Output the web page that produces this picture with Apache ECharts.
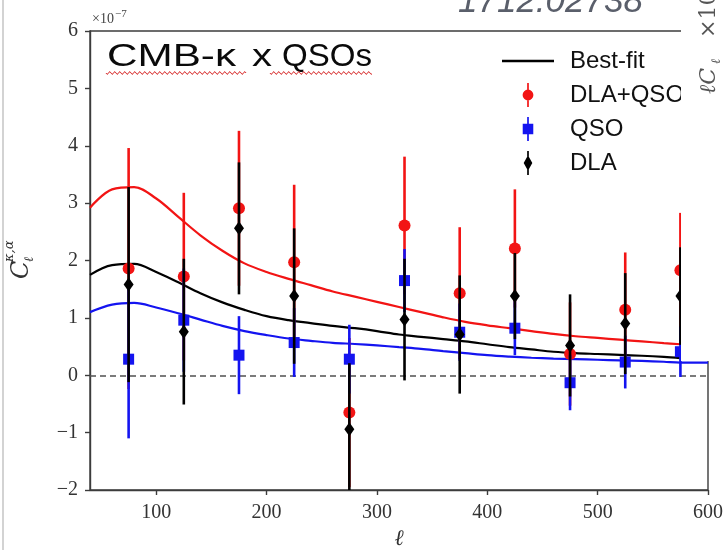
<!DOCTYPE html>
<html>
<head>
<meta charset="utf-8">
<title>CMB-kappa x QSOs</title>
<script src="https://cdn.jsdelivr.net/npm/echarts@6/dist/echarts.min.js"></script>
<style>
  html, body { margin: 0; padding: 0; background: #fff; }
  #chart { width: 726px; height: 550px; }
</style>
</head>
<body>
<div id="chart"></div>
<script>
// band centres
var ell = [75, 125, 175, 225, 275, 325, 375, 425, 475, 525, 575];
// measured C_l (x 1e-7) and 1-sigma errors
var dlaQso    = [1.86, 1.72, 2.91, 1.97, -0.65, 2.61, 1.43, 2.21, 0.37, 1.14, 1.83];
var dlaQsoErr = [2.10, 1.46, 1.35, 1.35, 1.30, 1.20, 1.15, 1.03, 0.90, 1.00, 1.00];
var qso       = [0.28, 0.96, 0.35, 0.57, 0.28, 1.65, 0.75, 0.82, -0.13, 0.23, 0.41];
var qsoErr    = [1.38, 0.90, 0.68, 0.60, 0.60, 0.55, 0.50, 0.47, 0.48, 0.46, 0.44];
var dla       = [1.58, 0.76, 2.56, 1.38, -0.94, 0.97, 0.71, 1.38, 0.52, 0.90, 1.38];
var dlaErr    = [1.70, 1.27, 1.15, 1.18, 1.15, 1.06, 1.03, 0.75, 0.89, 0.88, 0.85];

// best-fit curves
var ellFit    = [40, 60, 80, 100, 120, 140, 160, 180, 200, 220, 240, 260, 280, 300, 320, 340, 360, 380, 400, 420, 440, 460, 480, 500, 520, 540, 560, 575, 600];
var fitDlaQso = [2.92, 3.24, 3.28, 3.08, 2.76, 2.44, 2.17, 1.95, 1.80, 1.68, 1.57, 1.46, 1.37, 1.28, 1.19, 1.10, 1.01, 0.93, 0.87, 0.82, 0.77, 0.72, 0.68, 0.65, 0.62, 0.59, 0.56, 0.54, null];
var fitDla    = [1.75, 1.92, 1.94, 1.80, 1.62, 1.43, 1.27, 1.14, 1.03, 0.96, 0.91, 0.86, 0.82, 0.77, 0.71, 0.67, 0.63, 0.59, 0.54, 0.49, 0.45, 0.41, 0.385, 0.37, 0.355, 0.34, 0.32, 0.30, null];
var fitQso    = [1.10, 1.23, 1.26, 1.18, 1.08, 0.97, 0.86, 0.77, 0.70, 0.64, 0.60, 0.565, 0.545, 0.52, 0.49, 0.46, 0.42, 0.385, 0.35, 0.325, 0.305, 0.29, 0.28, 0.27, 0.26, 0.25, 0.235, 0.22, 0.22];

var xTicks = [100, 200, 300, 400, 500, 600];

var RED = '#f21414', BLUE = '#1414f0', BLACK = '#000';
var AXIS = '#3c3c3c';

var chart = echarts.init(document.getElementById('chart'));

function curve(name, vals, color) {
  return {
    name: name, type: 'line', z: 2, smooth: 0.35, showSymbol: false, silent: true,
    lineStyle: { color: color, width: 2.2 },
    itemStyle: { color: color },
    data: ellFit.map(function (l, i) { return [l, vals[i]]; })
  };
}

function errorBars(name, vals, errs, color, z) {
  return {
    name: name, type: 'custom', z: z, silent: true,
    data: ell.map(function (l, i) { return [l, vals[i] - errs[i], vals[i] + errs[i]]; }),
    encode: { x: 0, y: [1, 2] },
    renderItem: function (params, api) {
      var cs = params.coordSys;
      var lo = api.coord([api.value(0), api.value(1)]);
      var hi = api.coord([api.value(0), api.value(2)]);
      var yb = Math.min(lo[1], cs.y + cs.height);
      var yt = Math.max(hi[1], cs.y);
      return {
        type: 'line',
        shape: { x1: lo[0], y1: yb, x2: hi[0], y2: yt },
        style: { stroke: color, lineWidth: 2.6 }
      };
    }
  };
}

function points(name, vals, symbol, size, color, z) {
  return {
    name: name, type: 'scatter', z: z, symbol: symbol, symbolSize: size,
    itemStyle: { color: color, opacity: 1 },
    data: ell.map(function (l, i) { return [l, vals[i]]; })
  };
}

// measure text to stretch title pieces to the widths seen in the picture
var ctx = document.createElement('canvas').getContext('2d');
function fitText(text, x0, x1, y, size) {
  var font = size + 'px "Liberation Sans"';
  ctx.font = font;
  var w = ctx.measureText(text).width;
  return {
    type: 'text', x: x0, y: y, scaleX: (x1 - x0) / w, z: 50,
    style: { text: text, font: font, fill: '#0a0a0a', verticalAlign: 'middle' }
  };
}

function squiggle(x0, x1, y) {
  var pts = [];
  for (var x = x0; x <= x1; x += 1) pts.push([x, y + 1.4 * Math.sin((x - x0) / 5 * 2 * Math.PI)]);
  return { type: 'polyline', z: 50, shape: { points: pts }, style: { stroke: '#d93030', lineWidth: 1, fill: null } };
}

var icoCircle = 'path://M4.3,0H5.7V20H4.3Z M0.5,10A4.5,4.5 0 1,1 9.5,10A4.5,4.5 0 1,1 0.5,10Z';
var icoSquare = 'path://M4.3,0H5.7V20H4.3Z M0.6,5.6H9.4V14.4H0.6Z';
var icoDiamond = 'path://M4.3,0H5.7V20H4.3Z M5,3.5L8.6,10L5,16.5L1.4,10Z';

var option = {
  backgroundColor: '#fff',
  animation: false,
  grid: {
    left: 90, right: 18, top: 31, bottom: 60, outerBoundsMode: 'none',
    show: true, borderColor: AXIS, borderWidth: 1.4
  },
  legend: {
    orient: 'vertical', left: 502, top: 49, padding: 0, itemGap: 10,
    itemWidth: 52, itemHeight: 24, selectedMode: false,
    textStyle: { fontFamily: 'Liberation Sans', fontSize: 24, color: '#111', padding: [0, 0, 0, 11] },
    data: [
      { name: 'Best-fit', icon: 'path://M0,0H50V2.6H0Z', itemStyle: { color: BLACK } },
      { name: 'DLA+QSO', icon: icoCircle, itemStyle: { color: RED } },
      { name: 'QSO', icon: icoSquare, itemStyle: { color: BLUE } },
      { name: 'DLA', icon: icoDiamond, itemStyle: { color: BLACK } }
    ]
  },
  xAxis: {
    type: 'value', min: 40, max: 600,
    name: 'ℓ', nameLocation: 'middle', nameGap: 37,
    nameTextStyle: { fontFamily: 'DejaVu Serif', fontStyle: 'italic', fontSize: 22, color: '#333' },
    axisLine: { show: true, onZero: false, lineStyle: { color: AXIS, width: 1.4 } },
    axisTick: { show: true, customValues: xTicks, length: 5, lineStyle: { color: AXIS, width: 1.4 } },
    axisLabel: { customValues: xTicks, fontFamily: 'Liberation Serif', fontSize: 20, color: '#333', margin: 13 },
    splitLine: { show: false }
  },
  yAxis: {
    type: 'value', min: -2, max: 6, interval: 1,
    axisLine: { show: true, onZero: false, lineStyle: { color: AXIS, width: 1.4 } },
    axisTick: { show: true, length: 5, lineStyle: { color: AXIS, width: 1.4 } },
    axisLabel: {
      fontFamily: 'Liberation Serif', fontSize: 20, color: '#333', margin: 12,
      formatter: function (v) { return String(v).replace('-', '\u2212'); }
    },
    splitLine: { show: false }
  },
  series: [
    Object.assign(curve('fitDlaQso', fitDlaQso, RED), {
      markLine: {
        silent: true, symbol: ['none', 'none'], label: { show: false },
        lineStyle: { color: '#505050', width: 1.6, type: [6, 4] },
        data: [{ yAxis: 0 }]
      }
    }),
    curve('Best-fit', fitDla, BLACK),
    curve('fitQso', fitQso, BLUE),
    errorBars('DLA+QSO', dlaQso, dlaQsoErr, RED, 3),
    points('DLA+QSO', dlaQso, 'circle', 12, RED, 4),
    errorBars('QSO', qso, qsoErr, BLUE, 5),
    points('QSO', qso, 'rect', 11, BLUE, 6),
    errorBars('DLA', dla, dlaErr, BLACK, 7),
    points('DLA', dla, 'diamond', [10, 14], BLACK, 8)
  ],
  graphic: [
    // slide frame on the left
    { type: 'line', z: 50, shape: { x1: 3, y1: 0, x2: 3, y2: 550 }, style: { stroke: '#c4c4c4', lineWidth: 1.5 } },
    // offset text
    { type: 'text', x: 92, y: 19, z: 50, style: { text: '×10', font: '14px "Liberation Serif"', fill: '#444', verticalAlign: 'middle' } },
    { type: 'text', x: 115, y: 14, z: 50, style: { text: '\u22127', font: '11px "Liberation Serif"', fill: '#444', verticalAlign: 'middle' } },
    // title
    fitText('CMB-κ', 107, 236, 57, 31),
    fitText('x', 252, 272, 57, 31),
    fitText('QSOs', 282, 372, 57, 31),
    squiggle(106, 246, 73),
    squiggle(270, 372, 73),
    // y-axis label C_l^{kappa,alpha}
    {
      type: 'group', x: 29, y: 279, rotation: Math.PI / 2,
      children: [
        { type: 'text', z: 50, x: 0, y: -7, style: { text: 'C', font: 'italic 24px "DejaVu Serif"', fill: '#333', verticalAlign: 'middle' } },
        { type: 'text', z: 50, x: 17, y: -19, style: { text: 'κ,α', font: 'italic 13px "DejaVu Serif"', fill: '#333', verticalAlign: 'middle' } },
        { type: 'text', z: 50, x: 17, y: 1, style: { text: 'ℓ', font: 'italic 13px "DejaVu Serif"', fill: '#333', verticalAlign: 'middle' } }
      ]
    },
    // cropped strip on the right
    { type: 'rect', z: 100, shape: { x: 681, y: 0, width: 45, height: 361 }, style: { fill: '#fff' } },
    { type: 'text', x: 458, y: 2, z: 101, style: { text: '1712.02738', font: 'italic 35px "Liberation Sans"', fill: '#5a5f6b', verticalAlign: 'middle' } },
    {
      type: 'group', x: 717, y: 94, rotation: Math.PI / 2,
      children: [
        { type: 'text', z: 101, x: 0, y: -8, style: { text: 'ℓC', font: 'italic 22px "DejaVu Serif"', fill: '#555', verticalAlign: 'middle' } },
        { type: 'text', z: 101, x: 30, y: 0, style: { text: 'ℓ', font: 'italic 13px "DejaVu Serif"', fill: '#555', verticalAlign: 'middle' } },
        { type: 'text', z: 101, x: 56, y: -8, style: { text: '×10', font: '22px "DejaVu Serif"', fill: '#555', verticalAlign: 'middle' } }
      ]
    }
  ]
};

chart.setOption(option);
</script>
</body>
</html>
